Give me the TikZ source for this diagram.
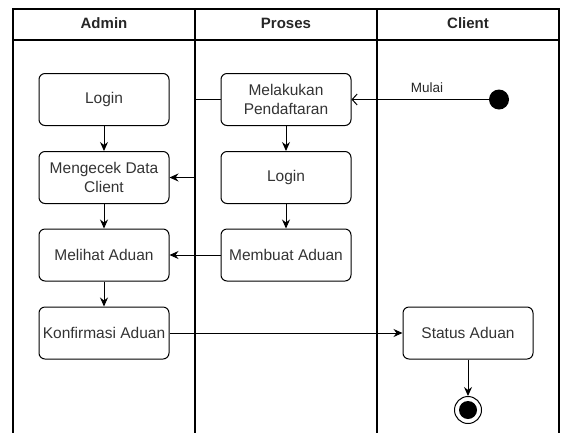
\documentclass[tikz,border=0pt]{standalone}
\usepackage{fontspec}
\setmainfont{Liberation Sans}
\usetikzlibrary{arrows.meta}

\begin{document}
\begin{tikzpicture}[x=1pt,y=-1pt,
    lane/.style={line width=1.1pt},
    act/.style={draw, line width=1pt, rounded corners=6pt, minimum width=130pt, minimum height=52pt,
      align=center, inner sep=1pt, text=black!80, font=\fontsize{15.5}{19.5}\selectfont},
    arr/.style={line width=1pt, -{Stealth[length=9pt,width=8pt]}},
    head/.style={font=\bfseries\fontsize{15}{18}\selectfont, text=black!85}]
      \useasboundingbox (0,0) rectangle (564,432);
      % swimlanes
      \draw[lane] (13,433) -- (13,9) -- (559,9) -- (559,433);
      \draw[lane] (13,40) -- (559,40);
      \coordinate (div1) at (195,9);
      \coordinate (div2) at (377,9);
      \draw[lane] (div1) -- (195,433);
      \draw[lane] (div2) -- (377,433);
      \node[head] (hadmin) at (104,23) {Admin};
      \node[head] (hproses) at (286,23) {Proses};
      \node[head] (hclient) at (468,23) {Client};
      % admin
      \node[act] (login1) at (104,99.5) {Login};
      \node[act] (cek) at (104,177.5) {Mengecek Data\\Client};
      \node[act] (lihat) at (104,255) {Melihat Aduan};
      \node[act] (konfirm) at (104,333) {Konfirmasi Aduan};
      % proses
      \node[act] (daftar) at (286,99.5) {Melakukan\\Pendaftaran};
      \node[act] (login2) at (286,177.5) {Login};
      \node[act] (buat) at (286,255) {Membuat Aduan};
      % client
      \node[act] (status) at (468,333) {Status Aduan};
      \node[circle, fill=black, minimum size=20pt, inner sep=0pt] (mulai) at (499,99.5) {};
      \node[circle, draw, line width=1pt, minimum size=27pt, inner sep=0pt] (akhir) at (468,410) {};
      \fill[black] (akhir) circle (9pt);
      % flows
      \draw[line width=1pt, -{Straight Barb[length=5pt,width=11pt]}] (mulai) -- node[above=3pt, pos=0.45, text=black!85, font=\fontsize{13.5}{16}\selectfont] {Mulai} (daftar.east);
      \draw[arr] (login1) -- (cek);
      \draw[arr] (cek) -- (lihat);
      \draw[arr] (lihat) -- (konfirm);
      \draw[arr] (daftar) -- (login2);
      \draw[arr] (login2) -- (buat);
      \draw[arr] (daftar.west) -- (daftar.west -| div1) |- (cek.east);
      \draw[arr] (buat) -- (lihat);
      \draw[arr] (konfirm) -- (status);
      \draw[arr] (status) -- (akhir);
\end{tikzpicture}
\end{document}
